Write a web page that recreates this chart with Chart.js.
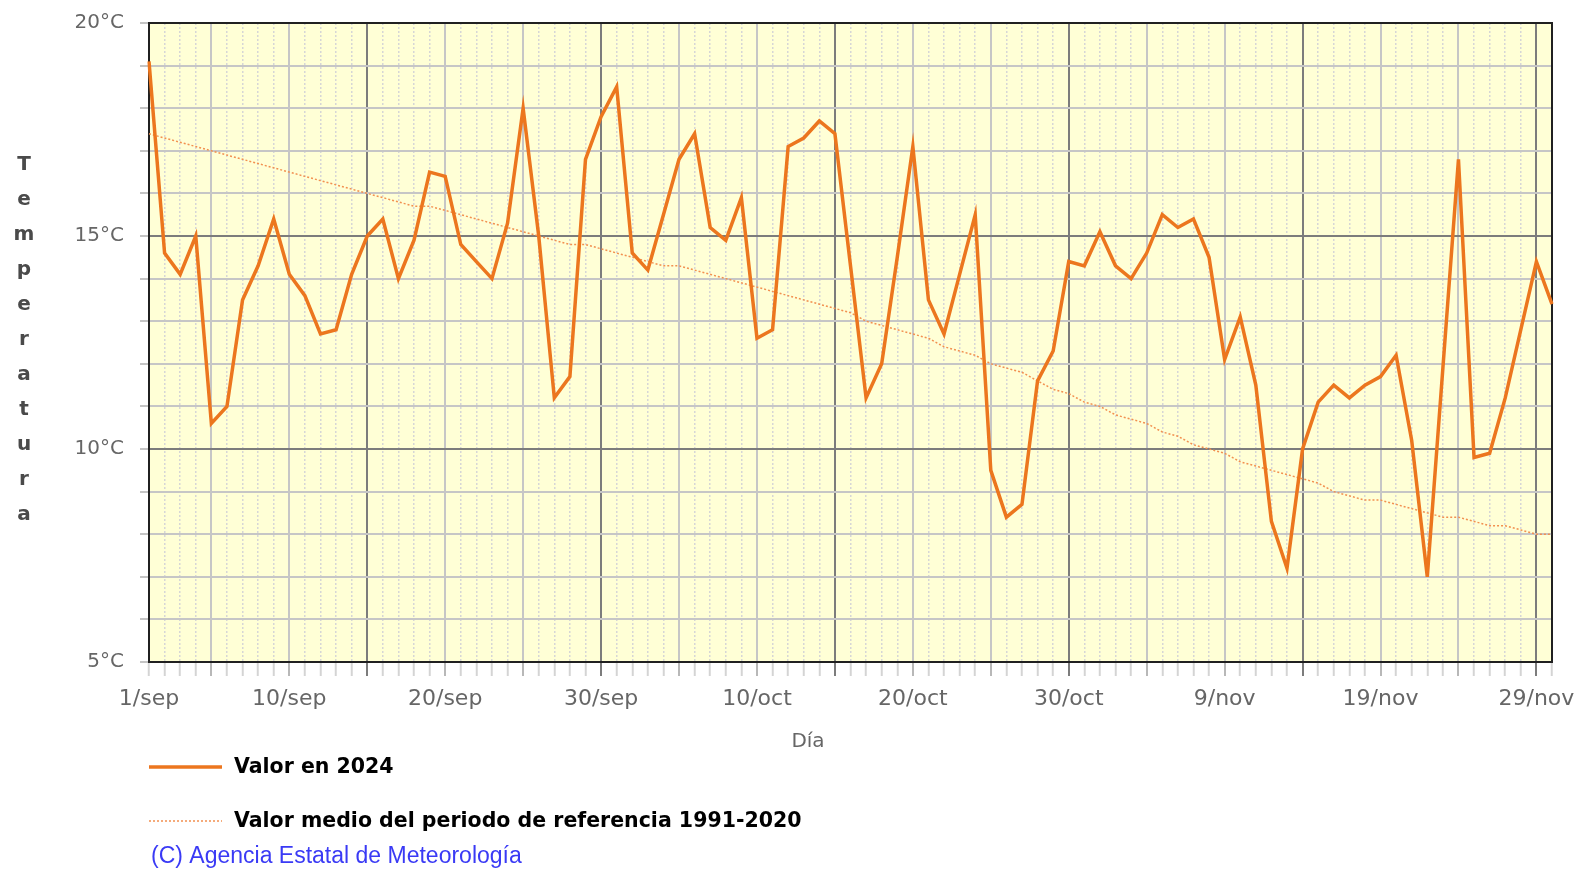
<!DOCTYPE html>
<html>
<head>
<meta charset="utf-8">
<title>Temperatura media diaria</title>
<script src="https://cdn.jsdelivr.net/npm/chart.js@4.4.0/dist/chart.umd.min.js"></script>
<style>
  html, body { margin: 0; padding: 0; background: #fff; }
</style>
</head>
<body>
<canvas id="chart" width="1583" height="869"></canvas>
<script>
// days of the period, 1/sep .. 30/nov
var months = [['sep', 30], ['oct', 31], ['nov', 30]];
var days = [];
months.forEach(function (m) {
    for (var d = 1; d <= m[1]; d++) days.push(d + '/' + m[0]);
});

var shownDays = ['1/sep', '10/sep', '20/sep', '30/sep', '10/oct', '20/oct', '30/oct', '9/nov', '19/nov', '29/nov'];
var yLabels = [5, 10, 15, 20];

var valor2024 = [
    19.1, 14.6, 14.1, 15.0, 10.6, 11.0, 13.5, 14.3, 15.4, 14.1,
    13.6, 12.7, 12.8, 14.1, 15.0, 15.4, 14.0, 14.9, 16.5, 16.4,
    14.8, 14.4, 14.0, 15.3, 18.0, 15.0, 11.2, 11.7, 16.8, 17.8,
    18.5, 14.6, 14.2, 15.5, 16.8, 17.4, 15.2, 14.9, 15.9, 12.6,
    12.8, 17.1, 17.3, 17.7, 17.4, 14.3, 11.2, 12.0, 14.5, 17.1,
    13.5, 12.7, 14.1, 15.5, 9.5, 8.4, 8.7, 11.6, 12.3, 14.4,
    14.3, 15.1, 14.3, 14.0, 14.6, 15.5, 15.2, 15.4, 14.5, 12.1,
    13.1, 11.5, 8.3, 7.2, 10.0, 11.1, 11.5, 11.2, 11.5, 11.7,
    12.2, 10.2, 7.0, 11.9, 16.8, 9.8, 9.9, 11.2, 12.8, 14.4,
    13.4
];

var valorMedio = [
    17.4, 17.3, 17.2, 17.1, 17.0, 16.9, 16.8, 16.7, 16.6, 16.5,
    16.4, 16.3, 16.2, 16.1, 16.0, 15.9, 15.8, 15.7, 15.7, 15.6,
    15.5, 15.4, 15.3, 15.2, 15.1, 15.0, 14.9, 14.8, 14.8, 14.7,
    14.6, 14.5, 14.4, 14.3, 14.3, 14.2, 14.1, 14.0, 13.9, 13.8,
    13.7, 13.6, 13.5, 13.4, 13.3, 13.2, 13.0, 12.9, 12.8, 12.7,
    12.6, 12.4, 12.3, 12.2, 12.0, 11.9, 11.8, 11.6, 11.4, 11.3,
    11.1, 11.0, 10.8, 10.7, 10.6, 10.4, 10.3, 10.1, 10.0, 9.9,
    9.7, 9.6, 9.5, 9.4, 9.3, 9.2, 9.0, 8.9, 8.8, 8.8,
    8.7, 8.6, 8.5, 8.4, 8.4, 8.3, 8.2, 8.2, 8.1, 8.0,
    8.0
];

var orange = '#EC761E';
var orangeLight = '#F29050';
var plotBg = '#FFFFD6';

function dayKind(i) {
    if (i % 15 == 14) return 'major';
    if (i % 5 == 4) return 'minor';
    return 'day';
}

// yellow background of the plot + frame
var frame = {
    id: 'frame',
    beforeDraw: function (chart) {
        var a = chart.chartArea, ctx = chart.ctx;
        ctx.save();
        ctx.fillStyle = plotBg;
        ctx.fillRect(a.left, a.top, a.right - a.left, a.bottom - a.top);
        ctx.restore();
    },
    beforeDatasetsDraw: function (chart) {
        var a = chart.chartArea, ctx = chart.ctx;
        ctx.save();
        ctx.strokeStyle = '#202020';
        ctx.lineWidth = 2;
        ctx.strokeRect(a.left, a.top, a.right - a.left, a.bottom - a.top);
        ctx.restore();
    }
};

// vertical "Temperatura" title, x title, legend and credit below
var extras = {
    id: 'extras',
    afterDraw: function (chart) {
        var ctx = chart.ctx;
        ctx.save();
        ctx.fillStyle = '#4a4a4a';
        ctx.font = 'bold 20px "DejaVu Sans"';
        ctx.textAlign = 'center';
        ctx.textBaseline = 'middle';
        var title = 'Temperatura';
        for (var k = 0; k < title.length; k++) {
            ctx.fillText(title[k], 24, 165 + k * 35);
        }

        ctx.fillStyle = '#666';
        ctx.font = '20px "DejaVu Sans"';
        ctx.fillText('Día', 808, 742);

        var ds = chart.data.datasets;
        var rows = [767, 821];
        ctx.textAlign = 'left';
        for (var j = 0; j < ds.length; j++) {
            ctx.beginPath();
            ctx.strokeStyle = ds[j].borderColor;
            ctx.lineWidth = ds[j].borderWidth;
            ctx.setLineDash(ds[j].borderDash || []);
            ctx.moveTo(149, rows[j]);
            ctx.lineTo(222, rows[j]);
            ctx.stroke();
            ctx.setLineDash([]);
            ctx.fillStyle = '#000';
            ctx.font = 'bold 20.5px "DejaVu Sans"';
            ctx.fillText(ds[j].label, 234, rows[j] + 1);
        }

        ctx.fillStyle = '#3A3AF5';
        ctx.font = '23px "Liberation Sans"';
        ctx.fillText('(C) Agencia Estatal de Meteorología', 151, 857);
        ctx.restore();
    }
};

new Chart(document.getElementById('chart').getContext('2d'), {
    type: 'line',
    data: {
        labels: days,
        datasets: [{
            label: 'Valor en 2024',
            data: valor2024,
            borderColor: orange,
            borderWidth: 3.5,
            borderJoinStyle: 'miter',
            pointRadius: 0,
            tension: 0,
            order: 1
        }, {
            label: 'Valor medio del periodo de referencia 1991-2020',
            data: valorMedio,
            borderColor: orangeLight,
            borderWidth: 1.5,
            borderDash: [2, 2],
            pointRadius: 0,
            tension: 0,
            order: 2
        }]
    },
    options: {
        responsive: false,
        animation: false,
        layout: { padding: { left: 0, right: 31, top: 23, bottom: 111 } },
        plugins: {
            legend: { display: false },
            tooltip: { enabled: false }
        },
        scales: {
            x: {
                type: 'category',
                offset: false,
                afterFit: function (s) { s.height = 96; },
                grid: {
                    color: function (c) {
                        var k = dayKind(c.index);
                        return k == 'major' ? '#7c7c7c' : (k == 'minor' ? '#c6c6c6' : '#d6d6d6');
                    },
                    lineWidth: function (c) { return dayKind(c.index) == 'day' ? 1.5 : 2; },
                    tickColor: function (c) {
                        var k = dayKind(c.index);
                        return k == 'major' ? '#7c7c7c' : (k == 'minor' ? '#b8b8b8' : '#d4d4d4');
                    },
                    tickLength: 14,
                    tickWidth: 2
                },
                border: {
                    display: false,
                    dash: function (c) { return dayKind(c.index) == 'day' ? [2, 2] : []; }
                },
                ticks: {
                    autoSkip: false,
                    maxRotation: 0,
                    minRotation: 0,
                    color: '#666',
                    padding: 10,
                    font: { family: 'DejaVu Sans', size: 22 },
                    callback: function (v, i) {
                        return shownDays.indexOf(days[i]) >= 0 ? days[i] : '';
                    }
                }
            },
            y: {
                min: 5,
                max: 20,
                afterFit: function (s) {
                    s.width = 149;
                    s.paddingTop = 0;
                    s.paddingBottom = 0;
                },
                grid: {
                    color: function (c) {
                        var v = c.tick ? c.tick.value : 0;
                        return (v == 10 || v == 15) ? '#7c7c7c' : '#c6c6c6';
                    },
                    lineWidth: 2,
                    tickColor: '#b0b0b0',
                    tickLength: 9,
                    tickWidth: 1.5
                },
                border: { display: false },
                ticks: {
                    stepSize: 1,
                    color: '#666',
                    padding: 16,
                    font: { family: 'DejaVu Sans', size: 20 },
                    callback: function (v) {
                        return yLabels.indexOf(v) >= 0 ? v + '°C' : '';
                    }
                }
            }
        }
    },
    plugins: [frame, extras]
});
</script>
</body>
</html>
